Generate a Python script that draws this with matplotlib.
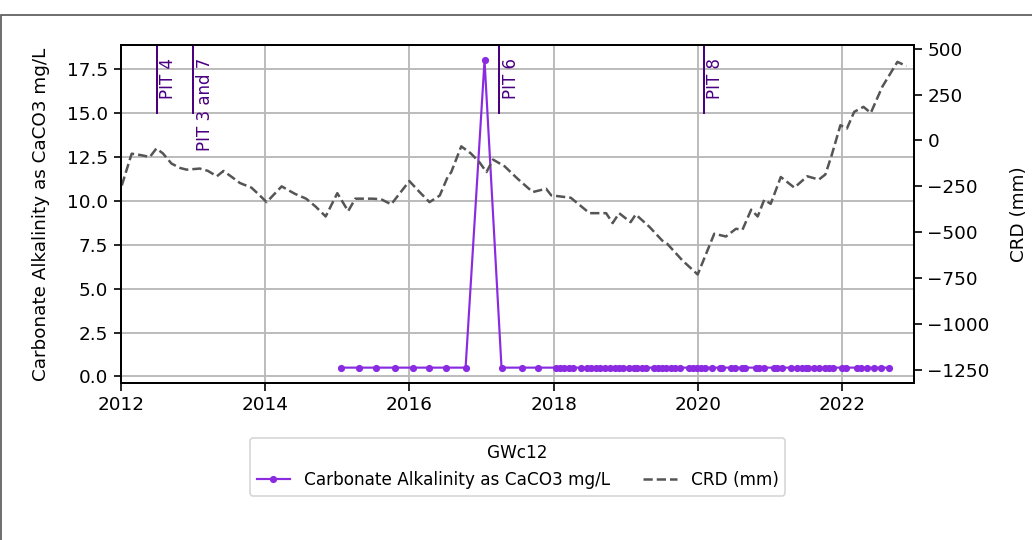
import matplotlib
matplotlib.use("Agg")
import matplotlib.pyplot as plt
import matplotlib.dates as mdates
import matplotlib.ticker as mticker
from matplotlib.patches import Rectangle
import pandas as pd

site = "GWc12"

alk_dates = [
    "2015-01-18", "2015-04-20", "2015-07-16", "2015-10-20", "2016-01-18", "2016-04-08",
    "2016-07-06", "2016-10-12", "2017-01-16", "2017-04-12", "2017-07-27", "2017-10-16",
    "2018-01-13", "2018-02-04", "2018-02-24", "2018-03-18", "2018-04-10", "2018-05-21",
    "2018-06-19", "2018-07-09", "2018-08-03", "2018-08-25", "2018-09-20", "2018-10-13",
    "2018-11-07", "2018-11-29", "2018-12-21", "2019-01-19", "2019-02-10", "2019-03-02",
    "2019-03-24", "2019-04-13", "2019-05-25", "2019-06-14", "2019-07-06", "2019-07-26",
    "2019-08-17", "2019-09-08", "2019-10-02", "2019-11-18", "2019-12-10", "2019-12-30",
    "2020-01-19", "2020-02-07", "2020-03-15", "2020-04-22", "2020-05-02", "2020-06-17",
    "2020-07-07", "2020-08-15", "2020-08-28", "2020-10-22", "2020-11-07", "2020-12-02",
    "2021-01-22", "2021-02-08", "2021-03-02", "2021-04-16", "2021-05-20", "2021-06-11",
    "2021-07-01", "2021-07-15", "2021-08-12", "2021-09-06", "2021-10-05", "2021-10-27",
    "2021-11-18", "2021-12-30", "2022-01-19", "2022-03-19", "2022-04-05", "2022-05-09",
    "2022-06-12", "2022-07-20", "2022-08-26",
]
alk_values = [0.5] * 8 + [18.0] + [0.5] * 66

crd_dates = [
    "2012-01-05", "2012-02-24", "2012-04-12", "2012-05-26", "2012-06-28", "2012-07-31",
    "2012-09-13", "2012-10-27", "2012-11-29", "2013-02-03", "2013-03-15", "2013-05-01",
    "2013-06-03", "2013-07-17", "2013-08-26", "2013-10-23", "2013-11-25", "2014-01-08",
    "2014-03-25", "2014-05-30", "2014-07-27", "2014-09-13", "2014-11-03", "2015-01-01",
    "2015-02-25", "2015-04-02", "2015-06-28", "2015-08-11", "2015-10-01", "2016-01-01",
    "2016-02-21", "2016-04-12", "2016-06-03", "2016-07-13", "2016-07-31", "2016-09-20",
    "2016-11-07", "2016-12-20", "2017-01-26", "2017-02-28", "2017-04-28", "2017-07-02",
    "2017-09-17", "2017-11-24", "2017-12-20", "2018-03-29", "2018-07-02", "2018-09-24",
    "2018-10-27", "2018-11-29", "2019-01-26", "2019-02-21", "2019-05-01", "2019-07-05",
    "2019-07-31", "2019-10-16", "2020-01-01", "2020-03-25", "2020-05-23", "2020-07-13",
    "2020-08-15", "2020-09-28", "2020-10-31", "2020-12-03", "2021-01-05", "2021-02-25",
    "2021-05-05", "2021-07-09", "2021-09-06", "2021-10-09", "2021-11-10", "2021-12-24",
    "2022-01-26", "2022-03-04", "2022-04-20", "2022-05-27", "2022-07-24", "2022-10-09",
    "2022-11-24",
]
crd_values = [
    -245, -72, -80, -90, -44, -70, -126, -150, -159, -153, -165, -195,
    -166, -200, -232, -257, -290, -336, -250, -290, -317, -360, -414, -287,
    -385, -317, -317, -320, -348, -221, -280, -336, -300, -199, -173, -32,
    -70, -117, -172, -104, -141, -208, -281, -263, -299, -312, -396, -396,
    -450, -396, -445, -403, -470, -545, -563, -654, -730, -508, -523, -481,
    -486, -377, -414, -323, -345, -199, -257, -195, -213, -185, -80, 83,
    65, 156, 183, 150, 292, 428, 405,
]

pit_names = ["PIT 4", "PIT 3 and 7", "PIT 6", "PIT 8"]
pit_dates = ["2012-07-01", "2013-01-01", "2017-04-01", "2020-02-01"]

alk_x = pd.to_datetime(alk_dates)
crd_x = pd.to_datetime(crd_dates)

fig = plt.figure(figsize=(8.6, 4.5), dpi=120)
ax = fig.add_axes([121 / 1032, 1 - 383 / 540, (914 - 121) / 1032, (383 - 45) / 540])
ax2 = ax.twinx()

l1, = ax.plot(alk_x, alk_values, color="blueviolet", marker="o", markersize=3.3,
              linewidth=1.3, label="Carbonate Alkalinity as CaCO3 mg/L")
l2, = ax2.plot(crd_x, crd_values, color="#555555", linestyle="--", linewidth=1.5,
               label="CRD (mm)")

for name, d in zip(pit_names, pd.to_datetime(pit_dates)):
    ax.axvline(d, ymin=0.8, ymax=1.0, color="indigo", linewidth=1.2)
    ax.annotate(name, xy=(d, 0.962), xycoords=("data", "axes fraction"),
                xytext=(1.5, 0), textcoords="offset points", rotation=90,
                ha="left", va="top", color="indigo", fontsize=10)

ax.set_xlim(pd.Timestamp("2012-01-01"), pd.Timestamp("2023-01-01"))
ax.set_ylim(-0.375, 18.875)
ax2.set_ylim(-1321, 520)
ax.xaxis.set_major_locator(mdates.YearLocator(2))
ax.xaxis.set_major_formatter(mdates.DateFormatter("%Y"))
ax.yaxis.set_major_locator(mticker.MultipleLocator(2.5))
ax2.yaxis.set_major_locator(mticker.MultipleLocator(250))

ax.grid(True, color="#b8b8b8", linewidth=1.1)
ax.set_axisbelow(True)
ax.set_ylabel("Carbonate Alkalinity as CaCO3 mg/L", fontsize=11, labelpad=10)
ax2.set_ylabel("CRD (mm)", fontsize=11, labelpad=12)
for a in (ax, ax2):
    a.tick_params(labelsize=11, width=1.0, length=4.5)
    for s in a.spines.values():
        s.set_linewidth(1.1)

ax.legend(handles=[l1, l2], title=site, ncol=2, loc="upper center",
          bbox_to_anchor=(0.5, -0.137), fontsize=10.1, title_fontsize=10.1)

# figure border, as in the original screenshot
fig.patches.append(Rectangle((1 / 1032, -0.1), 1.2, 1.1 - 15 / 540,
                             transform=fig.transFigure, fill=False,
                             edgecolor="#555555", linewidth=1.0))

fig.savefig("out.png", dpi=120)
